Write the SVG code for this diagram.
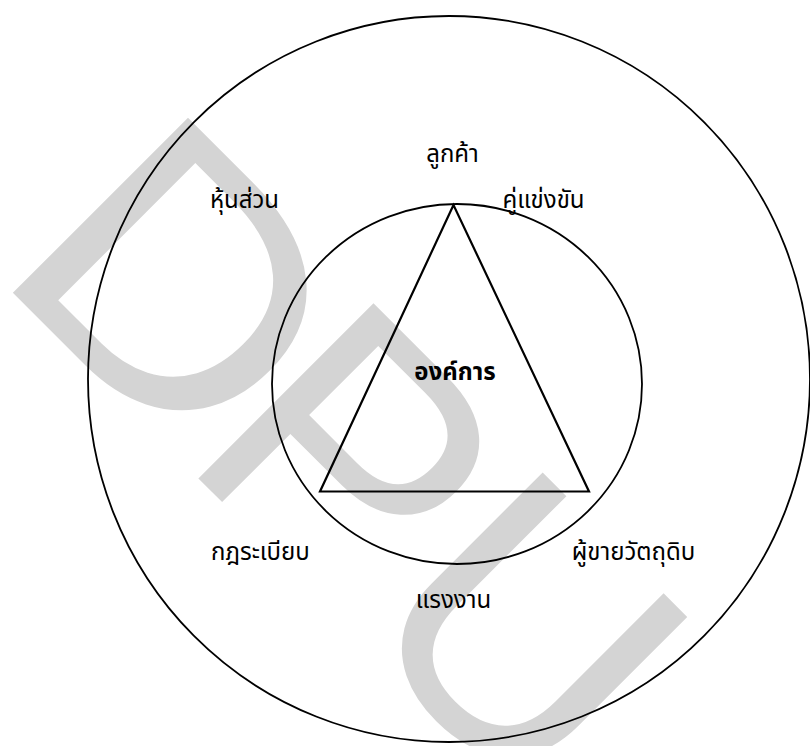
<svg xmlns="http://www.w3.org/2000/svg" width="810" height="746" viewBox="0 0 810 746">
<style>
.ln{fill:none;stroke:#000;stroke-width:1.8}
.tri{fill:none;stroke:#000;stroke-width:2.2;stroke-linejoin:miter}
.lb{font-family:"Noto Sans Thai","Noto Sans","DejaVu Sans",sans-serif;font-size:24px;fill:#000;text-anchor:middle}
.wm{font-family:"Liberation Sans",Arial,sans-serif;font-size:360px;fill:#d4d4d4}
</style>
<rect width="810" height="746" fill="#fff"/>
<g id="watermark" transform="rotate(45)">
<text class="wm" transform="translate(183.4 198) scale(1.11 1)">D</text>
<text class="wm" x="449" y="198">P</text>
<text class="wm" x="690" y="198">U</text>
</g>
<g id="outer-circle"><ellipse class="ln" cx="449" cy="379" rx="361" ry="363"/></g>
<g id="inner-circle"><ellipse class="ln" cx="457" cy="384" rx="185" ry="180"/></g>
<g id="triangle"><polygon class="tri" points="453.5,205 320,491.5 589,491.5"/></g>
<g id="label-org"><text class="lb" x="455" y="380" font-weight="bold">องค์การ</text></g>
<g id="label-customer"><text class="lb" x="452.5" y="162">ลูกค้า</text></g>
<g id="label-partner"><text class="lb" x="244.5" y="208">หุ้นส่วน</text></g>
<g id="label-competitor"><text class="lb" x="543.5" y="208">คู่แข่งขัน</text></g>
<g id="label-regulation"><text class="lb" x="260.5" y="560">กฎระเบียบ</text></g>
<g id="label-supplier"><text class="lb" x="633.5" y="560">ผู้ขายวัตถุดิบ</text></g>
<g id="label-labor"><text class="lb" x="453.5" y="608">แรงงาน</text></g>
</svg>
